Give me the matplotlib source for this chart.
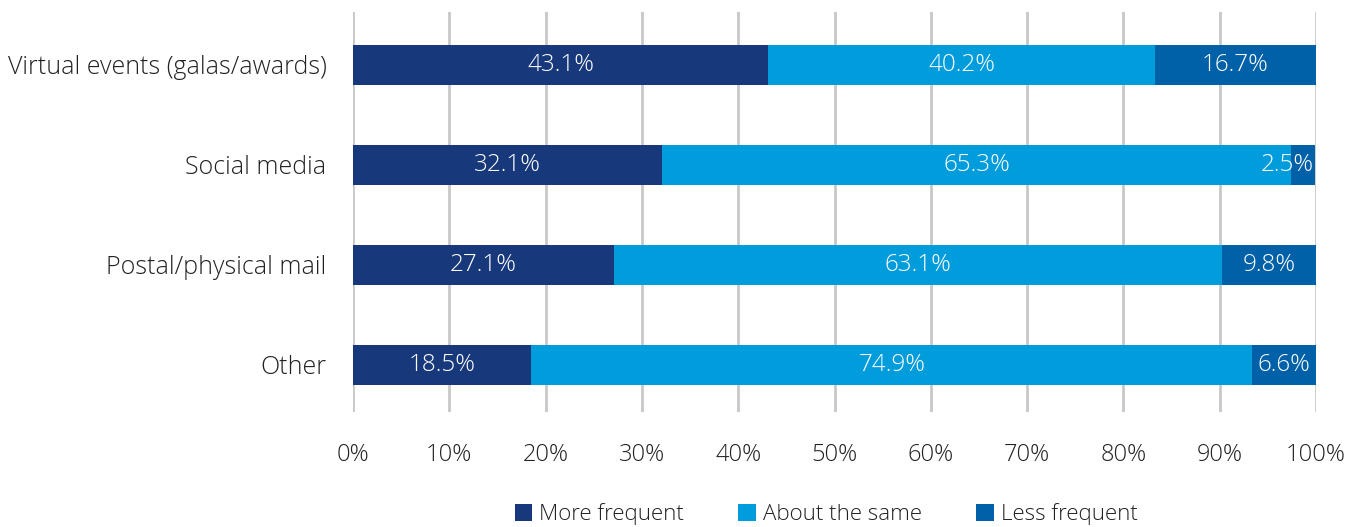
import matplotlib
matplotlib.use("Agg")
import matplotlib.pyplot as plt
import numpy as np

categories = ["Virtual events (galas/awards)", "Social media", "Postal/physical mail", "Other"]
more_frequent = [43.1, 32.1, 27.1, 18.5]
about_same = [40.2, 65.3, 63.1, 74.9]
less_frequent = [16.7, 2.5, 9.8, 6.6]
series_names = ["More frequent", "About the same", "Less frequent"]
colors = ["#17387A", "#009CDB", "#0060A8"]
ticks = list(range(0, 101, 10))

plt.rcParams['font.family'] = ['Open Sans', 'DejaVu Sans']
plt.rcParams['font.weight'] = 'light'

fig = plt.figure(figsize=(13.6, 5.27), dpi=100)
ax = fig.add_axes([353/1360, 1-412/527, (1316-353)/1360, 400/527])

y = np.arange(len(categories))
left = np.zeros(len(categories))
for vals, name, c in zip([more_frequent, about_same, less_frequent], series_names, colors):
    vals = np.array(vals)
    ax.barh(y, vals, left=left, height=0.4, color=c, label=name, zorder=3)
    for yi, l, v in zip(y, left, vals):
        if v < 5:
            # too narrow: keep the label inside the bar, aligned to its end
            ax.text(l + v - 0.15, yi, f"{v:.1f}%", ha="right", va="center", color="white",
                    fontsize=17.5, zorder=4)
        else:
            ax.text(l + v/2, yi, f"{v:.1f}%", ha="center", va="center", color="white",
                    fontsize=17.5, zorder=4)
    left = left + vals

ax.set_ylim(3.47, -0.53)
ax.set_xlim(0, 100)
ax.set_xticks(ticks)
ax.set_xticklabels([f"{t}%" for t in ticks], fontsize=17, color="#222222")
ax.set_yticks(y)
ax.set_yticklabels(categories, fontsize=18, color="#222222")
ax.tick_params(axis="x", length=0, pad=22)
ax.tick_params(axis="y", length=0, pad=19)
ax.grid(axis="x", color="#c8c8c8", linewidth=2, zorder=0)
for s in ax.spines.values():
    s.set_visible(False)

leg = fig.legend(loc="center", bbox_to_anchor=(826/1360, 1-514/527), ncol=3, frameon=False,
                 fontsize=16, handlelength=0.8, handleheight=0.8, handletextpad=0.3,
                 columnspacing=2.45)
for t in leg.get_texts():
    t.set_color("#222222")

fig.savefig("out.png", dpi=100)
